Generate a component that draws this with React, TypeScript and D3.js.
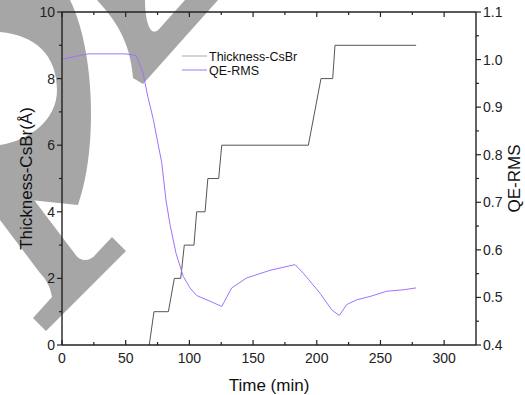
import * as d3 from 'd3';

// QE-RMS trace (purple), read against the right axis
const qeTime = [0, 20.6, 49.5, 58.1, 63.6, 67.3, 71.7, 78.3, 81.6, 84.8, 89.5, 95.2, 100.5, 105.7, 116.2, 125.4, 133.2, 145.0, 163.3, 182.9, 189.4, 202.5, 211.7, 217.7, 223.5, 231.4, 241.8, 254.9, 267.9, 277.9];
const qeValues = [1.001, 1.012, 1.012, 1.009, 0.972, 0.923, 0.874, 0.783, 0.705, 0.653, 0.593, 0.544, 0.520, 0.504, 0.492, 0.481, 0.520, 0.541, 0.557, 0.569, 0.551, 0.509, 0.474, 0.462, 0.485, 0.495, 0.502, 0.513, 0.516, 0.520];

// Thickness-CsBr steps (gray), read against the left axis
const thicknessTime = [68.5, 72.2, 83.5, 88.2, 93.2, 96.0, 103.6, 105.7, 112.3, 114.5, 123.0, 125.4, 193.4, 203.3, 212.5, 214.3, 278.0];
const thicknessValues = [0, 1, 1, 2, 2, 3, 3, 4, 4, 5, 5, 6, 6, 8, 8, 9, 9];

const xTicks = [0, 50, 100, 150, 200, 250, 300];
const leftTicks = [0, 2, 4, 6, 8, 10];
const rightTicks = [0.4, 0.5, 0.6, 0.7, 0.8, 0.9, 1.0, 1.1];

const legendLabels = ['Thickness-CsBr', 'QE-RMS'];

const W = 525;
const H = 395;
const m = { left: 62, right: 49, top: 12, bottom: 50 };
const FONT = '"Liberation Sans", Arial, sans-serif';
const PURPLE = '#a072ff';

export default function App() {
  const x = d3.scaleLinear().domain([0, 325]).range([m.left, W - m.right]);
  const yL = d3.scaleLinear().domain([0, 10]).range([H - m.bottom, m.top]);
  const yR = d3.scaleLinear().domain([0.4, 1.1]).range([H - m.bottom, m.top]);

  const x0 = m.left, x1 = W - m.right, y0 = H - m.bottom, y1 = m.top;

  const qeLine = d3.line<number>()
    .x((_, i) => x(qeTime[i]))
    .y(d => yR(d));
  const thickLine = d3.line<number>()
    .x((_, i) => x(thicknessTime[i]))
    .y(d => yL(d));

  const xMinor = d3.range(25, 325, 50);
  const leftMinor = d3.range(1, 10, 2);
  const rightMinor = d3.range(0.45, 1.1, 0.1);

  return (
    <svg width={W} height={H} style={{ position: 'absolute', left: 0, top: 0, background: '#fff' }}
      fontFamily={FONT}>
      {/* watermark shapes */}
      <g fill="#a6a6a6">
        <path d="M0 0 L70 0 C95 50 98 150 78 205 L30 200 L0 185 L0 145 C30 140 57 120 57 90 C57 55 35 35 0 32 Z" />
        <path d="M97 0 C115 20 130 40 133 78 L143 84 L218 0 L185 0 L160 28 C150 40 145 20 145 0 Z" />
        <path d="M0 155 L75 254 C80 262 90 262 96 254 L112 237 L126 251 L46 331 L33 318 L52 297 C50 285 45 278 40 273 L0 220 Z" />
      </g>

      {/* data */}
      <path d={thickLine(thicknessValues) ?? ''} fill="none" stroke="#555" strokeWidth={1} />
      <path d={qeLine(qeValues) ?? ''} fill="none" stroke={PURPLE} strokeWidth={1} />

      {/* frame */}
      <g stroke="#222" strokeWidth={1.4} fill="none">
        <line x1={x0} x2={x1} y1={y0} y2={y0} />
        <line x1={x0} x2={x1} y1={y1} y2={y1} />
        <line x1={x0} x2={x0} y1={y0} y2={y1} />
        <line x1={x1} x2={x1} y1={y0} y2={y1} />
      </g>

      {/* bottom + top ticks, inward */}
      <g stroke="#222" strokeWidth={1.2}>
        {xTicks.map(t => (
          <g key={t}>
            <line x1={x(t)} x2={x(t)} y1={y0} y2={y0 - 5} />
            <line x1={x(t)} x2={x(t)} y1={y1} y2={y1 + 5} />
          </g>
        ))}
        {xMinor.map(t => (
          <g key={t}>
            <line x1={x(t)} x2={x(t)} y1={y0} y2={y0 - 3} />
            <line x1={x(t)} x2={x(t)} y1={y1} y2={y1 + 3} />
          </g>
        ))}
        {leftTicks.map(t => <line key={t} x1={x0} x2={x0 - 5} y1={yL(t)} y2={yL(t)} />)}
        {leftMinor.map(t => <line key={t} x1={x0} x2={x0 - 3} y1={yL(t)} y2={yL(t)} />)}
        {rightTicks.map(t => <line key={t} x1={x1} x2={x1 + 5} y1={yR(t)} y2={yR(t)} />)}
        {rightMinor.map(t => <line key={t} x1={x1} x2={x1 + 3} y1={yR(t)} y2={yR(t)} />)}
      </g>

      {/* tick labels */}
      <g fontSize={14} fill="#222">
        {xTicks.map(t => (
          <text key={t} x={x(t)} y={y0 + 18} textAnchor="middle">{t}</text>
        ))}
        {leftTicks.map(t => (
          <text key={t} x={x0 - 7} y={yL(t) + 5} textAnchor="end">{t}</text>
        ))}
        {rightTicks.map(t => (
          <text key={t} x={x1 + 7} y={yR(t) + 5}>{d3.format('.1f')(t)}</text>
        ))}
      </g>

      {/* axis titles */}
      <g fontSize={17} fill="#111">
        <text x={(x0 + x1) / 2} y={391} textAnchor="middle">Time (min)</text>
        <text transform={`translate(32,${(y0 + y1) / 2}) rotate(-90)`} textAnchor="middle">Thickness-CsBr(Å)</text>
        <text transform={`translate(520,${(y0 + y1) / 2}) rotate(-90)`} textAnchor="middle">QE-RMS</text>
      </g>

      {/* legend */}
      <g fontSize={12.5} fill="#111">
        {legendLabels.map((lab, i) => (
          <g key={lab} transform={`translate(182,${56 + i * 14})`}>
            <line x1={0} x2={25} y1={0} y2={0} stroke={i === 0 ? '#aaa' : PURPLE} strokeWidth={1} />
            <text x={27} y={4.5}>{lab}</text>
          </g>
        ))}
      </g>
    </svg>
  );
}
